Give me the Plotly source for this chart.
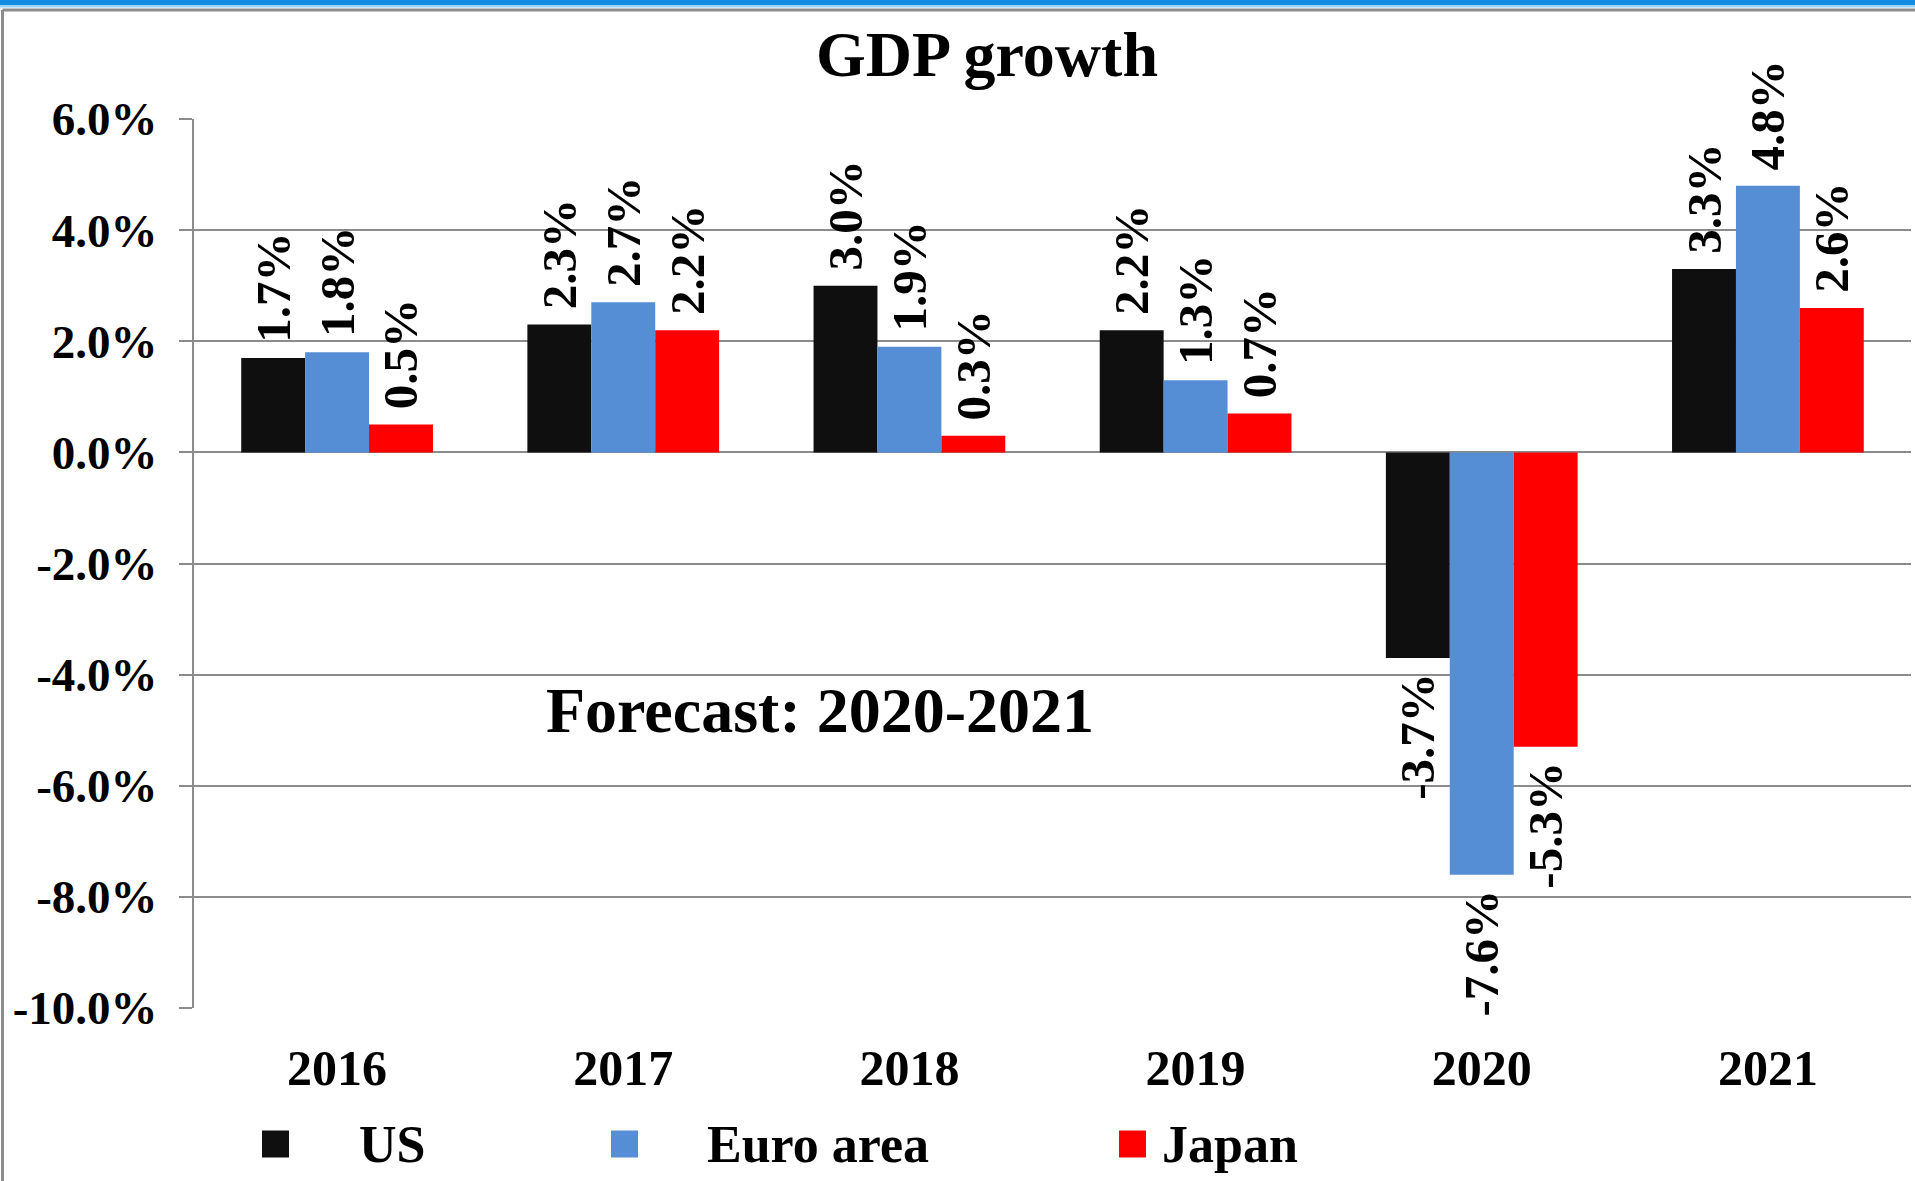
import plotly.graph_objects as go

# ---------------------------------------------------------------------------
# Data
# ---------------------------------------------------------------------------
years = ["2016", "2017", "2018", "2019", "2020", "2021"]
us = [1.7, 2.3, 3.0, 2.2, -3.7, 3.3]
euro_area = [1.8, 2.7, 1.9, 1.3, -7.6, 4.8]
japan = [0.5, 2.2, 0.3, 0.7, -5.3, 2.6]

series_names = ["US", "Euro area", "Japan"]
series_values = [us, euro_area, japan]
series_colors = ["#0f0f0f", "#558ed5", "#ff0000"]

y_tickvals = [6, 4, 2, 0, -2, -4, -6, -8, -10]
y_ticktext = ["6.0%", "4.0%", "2.0%", "0.0%", "-2.0%", "-4.0%", "-6.0%", "-8.0%", "-10.0%"]

title_text = "GDP growth"
note_text = "Forecast: 2020-2021"

# ---------------------------------------------------------------------------
# Layout constants (pixels)
# ---------------------------------------------------------------------------
W, H = 1915, 1181
PLOT_L, PLOT_R, PLOT_T, PLOT_B = 194, 1911, 119, 1008
Y_RANGE = [-10, 6]
GRID = "#8c8c8c"
FONT = "Liberation Serif"


def px(x):
    return (x - PLOT_L) / (PLOT_R - PLOT_L)


def py(y):
    return (PLOT_B - y) / (PLOT_B - PLOT_T)


def _label(v):
    pad = "\u00a0"
    return f"{pad}{v:.1f}%" if v >= 0 else f"{v:.1f}%{pad}"


fig = go.Figure()

for name, vals, color in zip(series_names, series_values, series_colors):
    fig.add_trace(
        go.Bar(
            x=years,
            y=vals,
            name=name,
            marker=dict(color=color, line=dict(width=0)),
            text=[_label(v) for v in vals],
            textposition="outside",
            textangle=-90,
            constraintext="none",
            cliponaxis=False,
            textfont=dict(family=FONT, size=49, color="black", weight="bold"),
            showlegend=False,
        )
    )

# hand-drawn legend (big square swatches like the original)
legend_pos = [(262, 357), (611, 705), (1119, 1160)]
SW = 27
LEG_Y = 1144
shapes = []
annotations = []
for (mx, tx), name, color in zip(legend_pos, series_names, series_colors):
    shapes.append(dict(
        type="rect", xref="paper", yref="paper",
        x0=px(mx), x1=px(mx + SW), y0=py(LEG_Y - SW / 2), y1=py(LEG_Y + SW / 2),
        fillcolor=color, line=dict(width=0),
    ))
    annotations.append(dict(
        text=name, xref="paper", yref="paper", x=px(tx), y=py(LEG_Y),
        xanchor="left", yanchor="middle", showarrow=False,
        font=dict(family=FONT, size=52, color="black", weight="bold"),
    ))

annotations.append(dict(
    text=note_text, xref="paper", yref="paper", x=px(820), y=py(710),
    xanchor="center", yanchor="middle", showarrow=False,
    font=dict(family=FONT, size=64, color="black", weight="bold"),
))

# slide frame: blue strip on top, grey border
shapes += [
    dict(type="rect", xref="paper", yref="paper", x0=px(0), x1=px(W),
         y0=py(5), y1=py(0), fillcolor="#128de2", line=dict(width=0), layer="below"),
    dict(type="rect", xref="paper", yref="paper", x0=px(0), x1=px(W),
         y0=py(7.5), y1=py(5), fillcolor="#9ad3f5", line=dict(width=0), layer="below"),
    dict(type="line", xref="paper", yref="paper", x0=px(2.5), x1=px(W),
         y0=py(10), y1=py(10), line=dict(color=GRID, width=3)),
    dict(type="line", xref="paper", yref="paper", x0=px(2.5), x1=px(2.5),
         y0=py(10), y1=py(H), line=dict(color=GRID, width=3)),
]

zero_pos = (0 - Y_RANGE[0]) / (Y_RANGE[1] - Y_RANGE[0])

fig.update_layout(
    width=W,
    height=H,
    margin=dict(l=PLOT_L, r=W - PLOT_R, t=PLOT_T, b=H - PLOT_B, pad=0, autoexpand=False),
    paper_bgcolor="white",
    plot_bgcolor="white",
    font=dict(family=FONT, color="black"),
    title=dict(
        text=title_text,
        x=987 / W, xref="container", xanchor="center",
        y=1 - 54 / H, yref="container", yanchor="middle",
        font=dict(family=FONT, size=64, color="black", weight="bold"),
    ),
    barmode="group",
    bargap=0.33,
    bargroupgap=0,
    xaxis=dict(
        type="category",
        automargin=False,
        showline=False,
        showgrid=False,
        ticks="",
        ticklabelstandoff=26,
        tickfont=dict(family=FONT, size=50, color="black", weight="bold"),
    ),
    # zero line axis carrying the category boundary ticks
    xaxis2=dict(
        overlaying="x",
        anchor="free",
        position=zero_pos,
        automargin=False,
        range=[-0.5, len(years) - 0.5],
        tickvals=[i + 0.5 for i in range(len(years))],
        ticks="outside",
        ticklen=14,
        tickwidth=2,
        tickcolor=GRID,
        showticklabels=False,
        showline=True,
        linecolor=GRID,
        linewidth=2,
        showgrid=False,
        zeroline=False,
    ),
    yaxis=dict(
        range=Y_RANGE,
        automargin=False,
        tickvals=y_tickvals,
        ticktext=y_ticktext,
        ticks="outside",
        ticklen=13,
        tickwidth=2,
        tickcolor=GRID,
        ticklabelstandoff=12,
        showline=True,
        linecolor=GRID,
        linewidth=2,
        showgrid=True,
        gridcolor=GRID,
        gridwidth=2,
        zeroline=False,
        tickfont=dict(family=FONT, size=47, color="black", weight="bold"),
    ),
    shapes=shapes,
    annotations=annotations,
    showlegend=False,
)

fig.write_html(
    "out.html",
    config={"displayModeBar": False},
    post_script="document.body.style.margin='0';",
)
